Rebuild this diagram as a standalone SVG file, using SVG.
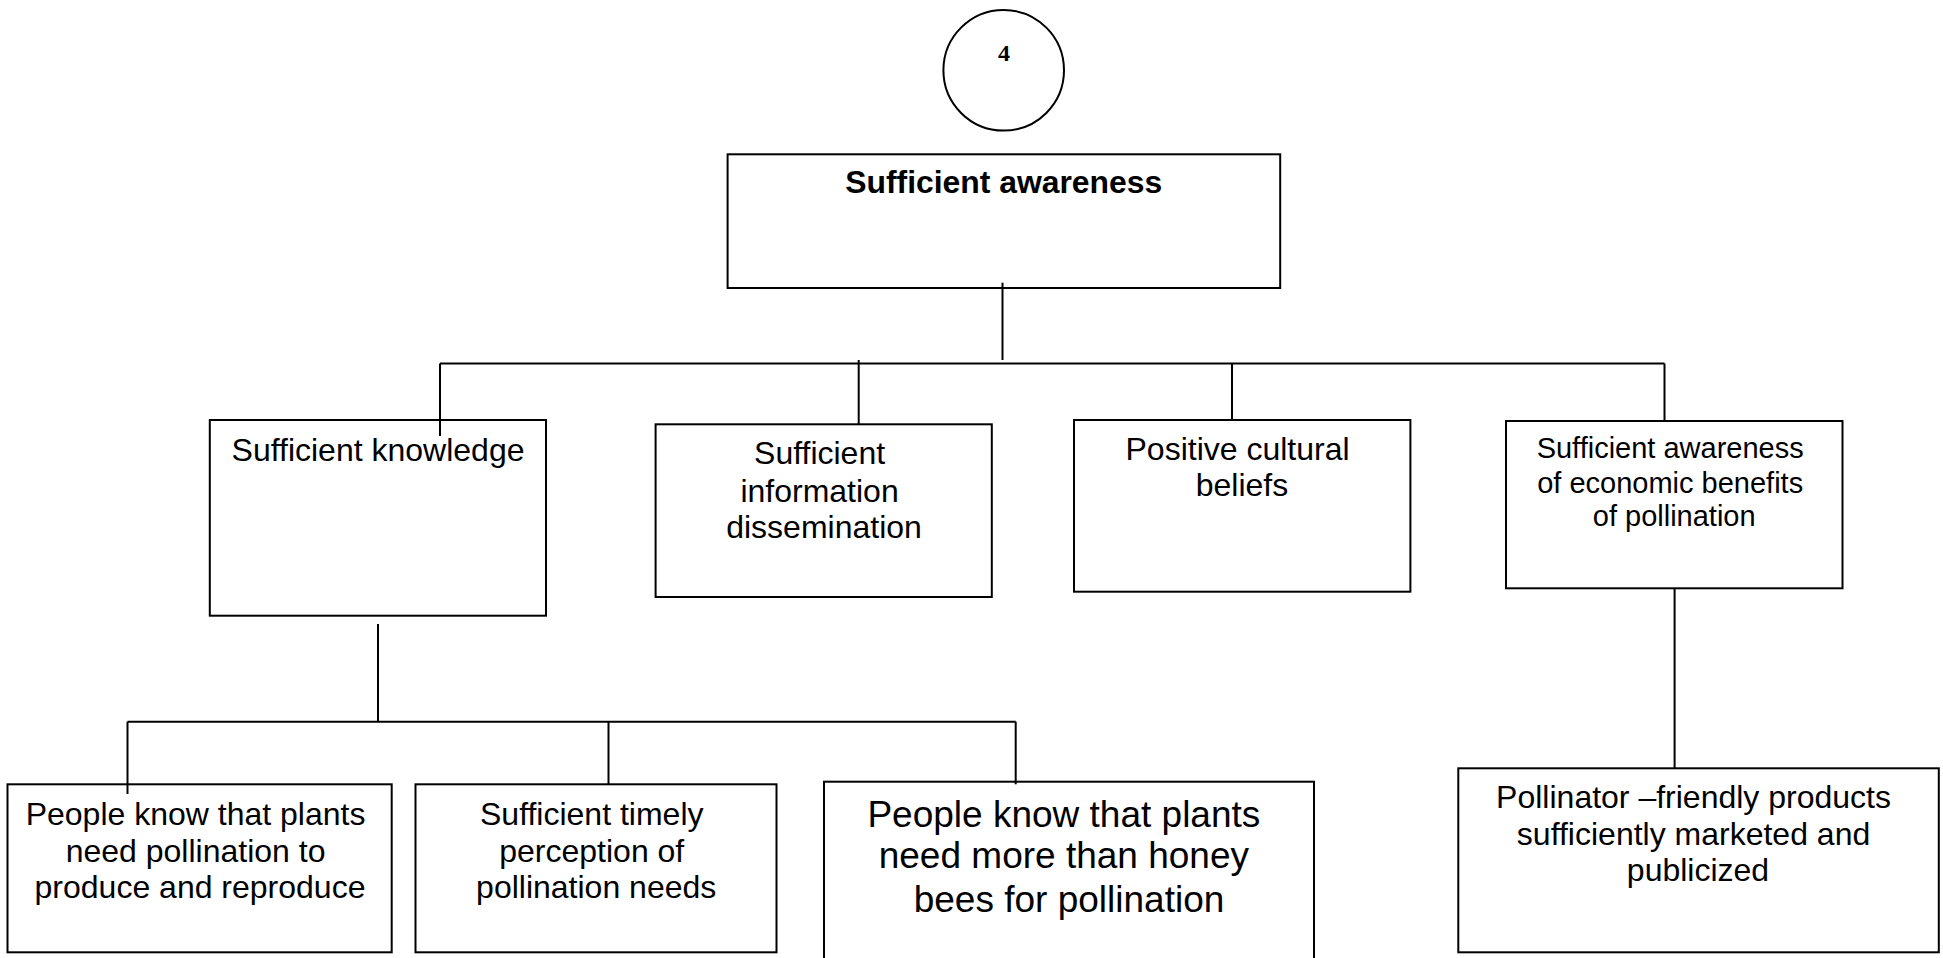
<svg xmlns="http://www.w3.org/2000/svg" width="1943" height="958" viewBox="0 0 1943 958">
  <style>
    .box { fill: #ffffff; stroke: #000000; stroke-width: 2; }
    .wire { fill: none; stroke: #000000; stroke-width: 2; }
    .lbl { font-family: "Liberation Sans", Arial, sans-serif; font-size: 32px; fill: #000000; text-anchor: middle; }
    .title { font-weight: bold; font-size: 31px; }
    .small { font-size: 29px; }
    .large { font-size: 37px; }
    .num { font-family: "Liberation Serif", "Times New Roman", serif; font-weight: bold; font-size: 24px; fill: #000000; text-anchor: middle; }
  </style>
  <rect x="0" y="0" width="1943" height="958" fill="#ffffff"/>

  <!-- page number badge -->
  <g id="badge">
    <circle cx="1003.7" cy="70.3" r="60.3" class="box"/>
    <text x="1004" y="61" class="num">4</text>
  </g>

  <!-- tree connectors -->
  <g id="connectors" class="wire">
    <path d="M1002.5 282.7 V360"/>
    <path d="M440 363.5 H1664.5"/>
    <path d="M440 363.5 V436"/>
    <path d="M858.7 360 V424.3"/>
    <path d="M1232 363.5 V420"/>
    <path d="M1664.5 363.5 V421"/>
    <path d="M378 624 V721.7"/>
    <path d="M127.5 721.7 H1015.7"/>
    <path d="M127.5 721.7 V794"/>
    <path d="M608.5 721.7 V784.3"/>
    <path d="M1015.7 721.7 V784.3"/>
    <path d="M1674.6 588.3 V768.3"/>
  </g>

  <g id="root">
    <rect x="727.6" y="154.3" width="552.6" height="133.7" class="box" fill-opacity="0"/>
    <text x="1003.7" y="193.3" class="lbl title" textLength="317" lengthAdjust="spacingAndGlyphs">Sufficient awareness</text>
  </g>

  <g id="knowledge">
    <rect x="209.8" y="420" width="336.2" height="195.7" class="box" fill-opacity="0"/>
    <text x="378" y="460.7" class="lbl">Sufficient knowledge</text>
  </g>

  <g id="dissemination">
    <rect x="655.6" y="424.3" width="336.2" height="172.7" class="box"/>
    <text class="lbl">
      <tspan x="824" y="464.3">Sufficient</tspan>
      <tspan x="824" y="501.7">information</tspan>
      <tspan x="824" y="538.3">dissemination</tspan>
    </text>
  </g>

  <g id="beliefs">
    <rect x="1074" y="420" width="336.4" height="171.7" class="box"/>
    <text class="lbl">
      <tspan x="1242" y="460">Positive cultural</tspan>
      <tspan x="1242" y="496">beliefs</tspan>
    </text>
  </g>

  <g id="economics">
    <rect x="1506" y="421" width="336.5" height="167.3" class="box"/>
    <text class="lbl small">
      <tspan x="1674.2" y="458.3">Sufficient awareness</tspan>
      <tspan x="1674.2" y="492.7">of economic benefits</tspan>
      <tspan x="1674.2" y="525.7">of pollination</tspan>
    </text>
  </g>

  <g id="reproduction">
    <rect x="7.5" y="784.3" width="384.2" height="168" class="box" fill-opacity="0"/>
    <text class="lbl">
      <tspan x="200" y="825">People know that plants</tspan>
      <tspan x="200" y="861.7">need pollination to</tspan>
      <tspan x="200" y="898.3">produce and reproduce</tspan>
    </text>
  </g>

  <g id="perception">
    <rect x="415.5" y="784.3" width="361" height="168" class="box"/>
    <text class="lbl">
      <tspan x="596.2" y="825">Sufficient timely</tspan>
      <tspan x="596.2" y="861.7">perception of</tspan>
      <tspan x="596.2" y="898.3">pollination needs</tspan>
    </text>
  </g>

  <g id="beyond-honeybees">
    <rect x="824" y="781.7" width="490" height="200" class="box" fill-opacity="0"/>
    <text class="lbl large">
      <tspan x="1069" y="827.3">People know that plants</tspan>
      <tspan x="1069" y="868.3">need more than honey</tspan>
      <tspan x="1069" y="912.3">bees for pollination</tspan>
    </text>
  </g>

  <g id="marketing">
    <rect x="1458.3" y="768.3" width="480.5" height="184" class="box"/>
    <text class="lbl">
      <tspan x="1698" y="808.3">Pollinator –friendly products</tspan>
      <tspan x="1698" y="845">sufficiently marketed and</tspan>
      <tspan x="1698" y="881">publicized</tspan>
    </text>
  </g>
</svg>
